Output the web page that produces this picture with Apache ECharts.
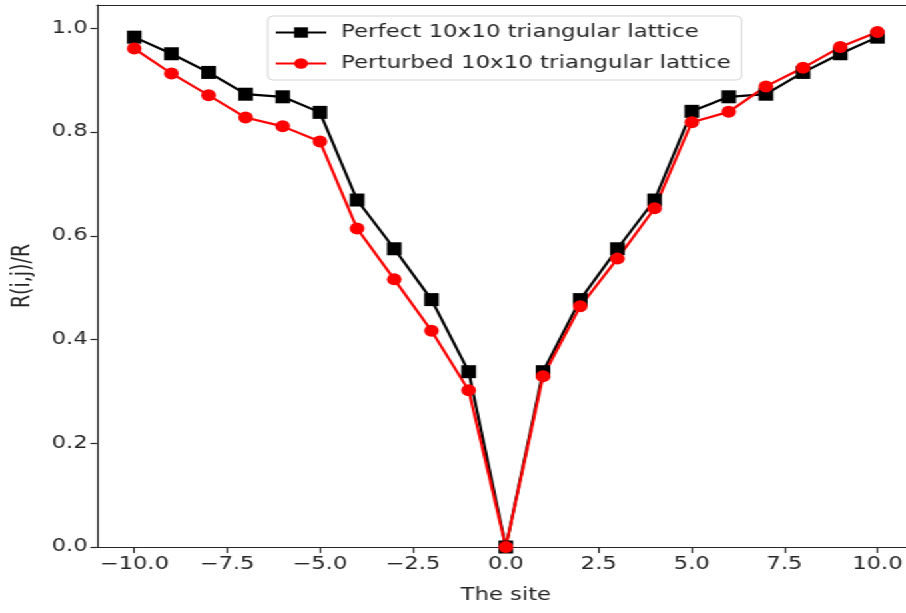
<!DOCTYPE html>
<html>
<head>
<meta charset="utf-8">
<script src="https://cdn.jsdelivr.net/npm/echarts@6/dist/echarts.min.js"></script>
<style>
  html, body { margin: 0; padding: 0; background: #fff; overflow: hidden; width: 906px; height: 613px; }
  /* the source picture is stretched sideways, so draw narrow and stretch;
     the canvas is a bit wider than the window so its right edge falls outside */
  #main { width: 700px; height: 613px; background: #fff; transform: scaleX(1.3324); transform-origin: 0 0; }
</style>
</head>
<body>
<div id="main"></div>
<script>
// site index along the line
var sites = [-10, -9, -8, -7, -6, -5, -4, -3, -2, -1, 0, 1, 2, 3, 4, 5, 6, 7, 8, 9, 10];
// R(i,j)/R for the perfect lattice
var perfect = [0.983, 0.951, 0.915, 0.873, 0.868, 0.838, 0.669, 0.575, 0.477, 0.338, 0.0,
               0.338, 0.477, 0.575, 0.669, 0.840, 0.868, 0.873, 0.915, 0.951, 0.983];
// R(i,j)/R for the perturbed lattice
var perturbed = [0.961, 0.913, 0.871, 0.828, 0.811, 0.782, 0.614, 0.516, 0.417, 0.302, 0.0,
                 0.329, 0.464, 0.556, 0.653, 0.819, 0.839, 0.888, 0.924, 0.964, 0.993];
var xTicks = [-10, -7.5, -5, -2.5, 0, 2.5, 5, 7.5, 10];
var yTicks = [0, 0.2, 0.4, 0.6, 0.8, 1.0];

function pairs(ys) {
  return sites.map(function (x, i) { return [x, ys[i]]; });
}
function fmt(v) {
  return v.toFixed(1).replace('-', '\u2212');
}

var myChart = echarts.init(document.getElementById('main'));
var font = 'DejaVu Sans';
var ink = '#262626';
function spine() {
  return { show: true, onZero: false, lineStyle: { color: ink, width: 1.2 } };
}
var option = {
  animation: false,
  textStyle: { fontFamily: font },
  grid: {
    left: 72.8, top: 5, width: 613.7, bottom: 66,
    outerBoundsMode: 'none'
  },
  legend: {
    orient: 'vertical',
    left: 201, top: 16,
    itemWidth: 38, itemHeight: 13, itemGap: 14,
    padding: [8, 8, 8, 5],
    borderColor: '#d4d4d4', borderWidth: 1, borderRadius: 4,
    textStyle: { fontFamily: font, fontSize: 17.2, color: ink, padding: [0, 0, 0, 6] },
    data: ['Perfect 10x10 triangular lattice', 'Perturbed 10x10 triangular lattice']
  },
  xAxis: [
    {
      type: 'value', min: -11, max: 11,
      name: 'The site', nameLocation: 'middle', nameGap: 40,
      nameTextStyle: { fontFamily: font, fontSize: 17, color: ink },
      splitLine: { show: false },
      axisLine: spine(),
      axisTick: { show: true, customValues: xTicks, length: 6, lineStyle: { color: ink, width: 1.2 } },
      axisLabel: { customValues: xTicks, formatter: fmt, fontFamily: font, fontSize: 17, color: ink, margin: 9 }
    },
    {
      // top spine only
      type: 'value', min: -11, max: 11, position: 'top',
      splitLine: { show: false }, axisLine: spine(),
      axisTick: { show: false }, axisLabel: { show: false }
    }
  ],
  yAxis: {
    type: 'value', min: 0, max: 1.045,
    name: 'R(i,j)/R', nameLocation: 'middle', nameGap: 46, nameRotate: 90,
    nameTextStyle: { fontFamily: font, fontSize: 19, color: ink },
    splitLine: { show: false },
    axisLine: spine(),
    axisTick: { show: true, customValues: yTicks, length: 5, lineStyle: { color: ink, width: 1.2 } },
    axisLabel: { customValues: yTicks, formatter: fmt, fontFamily: font, fontSize: 17, color: ink, margin: 7 }
  },
  series: [
    {
      name: 'Perfect 10x10 triangular lattice',
      type: 'line',
      data: pairs(perfect),
      symbol: 'rect', symbolSize: [11, 13],
      lineStyle: { color: '#000', width: 2.2 },
      itemStyle: { color: '#000' }
    },
    {
      name: 'Perturbed 10x10 triangular lattice',
      type: 'line',
      data: pairs(perturbed),
      symbol: 'circle', symbolSize: [11, 12],
      lineStyle: { color: '#ff0000', width: 2.2 },
      itemStyle: { color: '#ff0000' }
    }
  ]
};
myChart.setOption(option);
</script>
</body>
</html>
